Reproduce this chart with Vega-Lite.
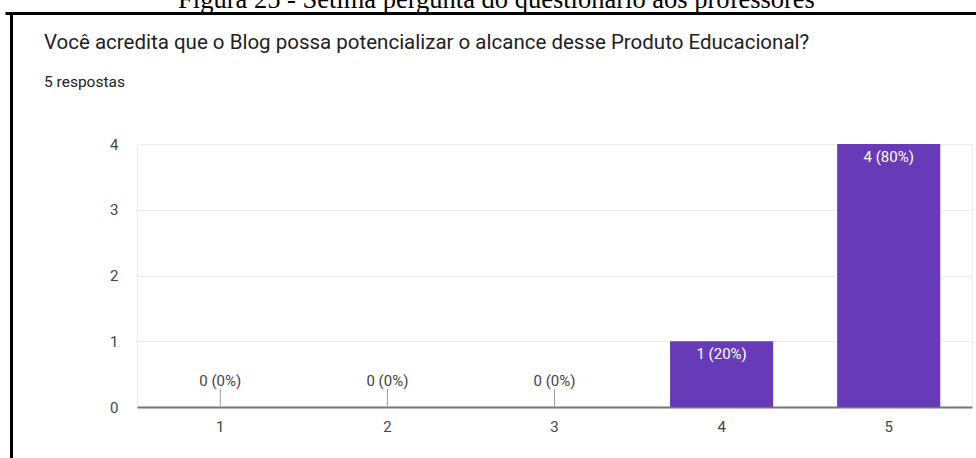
{
  "$schema": "https://vega.github.io/schema/vega-lite/v6.json",
  "autosize": {"type": "none"},
  "width": 835,
  "height": 263,
  "padding": {"left": 137, "top": 144, "right": 4, "bottom": 51},
  "background": "white",
  "config": {"view": {"stroke": "#eeeeee", "strokeWidth": 1}, "font": "Roboto"},
  "title": {
    "text": "Você acredita que o Blog possa potencializar o alcance desse Produto Educacional?",
    "subtitle": "5 respostas",
    "anchor": "start",
    "frame": "group",
    "dx": -93,
    "dy": 108,
    "fontSize": 20.5,
    "font": "Roboto",
    "fontWeight": "normal",
    "color": "#202124",
    "subtitleFont": "Roboto",
    "subtitleFontSize": 15.5,
    "subtitleColor": "#202124",
    "subtitlePadding": 22
  },
  "layer": [
    {
      "data": {"values": [
        {"opcao": "1", "respostas": 0, "rotulo": "0 (0%)"},
        {"opcao": "2", "respostas": 0, "rotulo": "0 (0%)"},
        {"opcao": "3", "respostas": 0, "rotulo": "0 (0%)"},
        {"opcao": "4", "respostas": 1, "rotulo": "1 (20%)"},
        {"opcao": "5", "respostas": 4, "rotulo": "4 (80%)"}
      ]},
      "encoding": {
        "x": {
          "field": "opcao", "type": "nominal",
          "scale": {"paddingInner": 0.383, "paddingOuter": 0.19},
          "axis": {"title": null, "labelAngle": 0, "domainColor": "#757575", "domainWidth": 2, "ticks": false, "labelPadding": 12, "labelFontSize": 15, "labelColor": "#444444", "grid": false}
        },
        "y": {
          "field": "respostas", "type": "quantitative",
          "scale": {"domain": [0, 4]},
          "axis": {
            "title": null, "values": [0, 0.5, 1, 1.5, 2, 2.5, 3, 3.5, 4],
            "format": "d",
            "labelExpr": "datum.value % 1 === 0 ? datum.label : ''",
            "gridColor": {"condition": {"test": "datum.value % 1 === 0", "value": "#ebebeb"}, "value": "#f6f6f6"},
            "domain": false, "ticks": false, "labelPadding": 19, "labelFontSize": 15, "labelColor": "#444444"
          }
        }
      },
      "layer": [
        {"mark": {"type": "bar", "color": "#673ab7"}},
        {
          "transform": [{"filter": "datum.respostas > 0"}],
          "mark": {"type": "text", "baseline": "alphabetic", "dy": 18, "color": "white", "fontSize": 15},
          "encoding": {"text": {"field": "rotulo"}}
        },
        {
          "transform": [{"filter": "datum.respostas === 0"}],
          "mark": {"type": "text", "baseline": "alphabetic", "dy": -21, "color": "#444444", "fontSize": 15},
          "encoding": {"text": {"field": "rotulo"}}
        },
        {
          "transform": [{"filter": "datum.respostas === 0"}],
          "mark": {"type": "rule", "color": "#9e9e9e", "y2Offset": -18},
          "encoding": {"y2": {"field": "respostas"}}
        }
      ]
    },
    {
      "data": {"values": [{"moldura": 0}]},
      "mark": {"type": "point", "opacity": 0},
      "encoding": {
        "x": {
          "field": "moldura", "type": "quantitative",
          "scale": {"domain": [0, 1], "range": [-132, 839]},
          "axis": {
            "orient": "top", "offset": 131, "domainColor": "black", "domainWidth": 3,
            "ticks": false, "labels": false, "grid": false,
            "title": "Figura 25 - Sétima pergunta do questionário aos professores",
            "titleFont": "Liberation Serif", "titleFontSize": 26.5, "titleFontWeight": "normal",
            "titleColor": "black", "titleX": 359, "titleY": -5.5, "titleAlign": "center", "titleBaseline": "alphabetic"
          }
        },
        "y": {
          "field": "moldura", "type": "quantitative",
          "scale": {"domain": [0, 1], "range": [317, -131]},
          "axis": {"orient": "left", "offset": 126, "domainColor": "black", "domainWidth": 3, "ticks": false, "labels": false, "grid": false, "title": null}
        }
      }
    }
  ],
  "resolve": {"scale": {"x": "independent", "y": "independent"}, "axis": {"x": "independent", "y": "independent"}}
}
